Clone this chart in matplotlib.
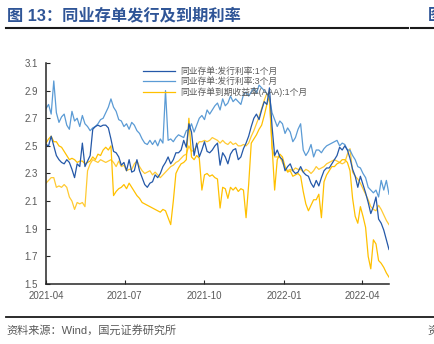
import matplotlib
matplotlib.use("Agg")
import matplotlib.pyplot as plt
import matplotlib.dates as mdates
import matplotlib.ticker as mticker
from matplotlib.lines import Line2D
import pandas as pd

plt.rcParams['font.family'] = ['Liberation Sans', 'Noto Sans CJK SC', 'DejaVu Sans']

start_date = "2021-04-01"
n_points = 133  # every 3 days

issue_1m = [2.51, 2.50, 2.57, 2.50, 2.43, 2.40, 2.38, 2.37, 2.40, 2.38,
            2.33, 2.27, 2.37, 2.35, 2.52, 2.35, 2.39, 2.43, 2.62, 2.64,
            2.65, 2.64, 2.65, 2.65, 2.63, 2.55, 2.46, 2.45, 2.42, 2.36,
            2.38, 2.32, 2.40, 2.31, 2.32, 2.40, 2.32, 2.27, 2.22, 2.20,
            2.23, 2.24, 2.29, 2.27, 2.30,
            2.35, 2.38, 2.42, 2.37, 2.40, 2.45, 2.45, 2.47, 2.54, 2.49,
            2.66, 2.60, 2.43, 2.52, 2.42, 2.47, 2.53, 2.46, 2.45, 2.47,
            2.50, 2.52, 2.36, 2.45, 2.42, 2.37, 2.44, 2.47, 2.48, 2.40,
            2.42, 2.48, 2.52, 2.57, 2.64, 2.70, 2.73, 2.69, 2.76, 2.82,
            2.80, 2.92,
            2.64, 2.43, 2.47, 2.42, 2.40, 2.32, 2.35, 2.37, 2.32, 2.30,
            2.31, 2.35, 2.31, 2.29, 2.28, 2.23, 2.20, 2.25, 2.21, 2.27,
            2.32, 2.34, 2.34, 2.37, 2.40, 2.43, 2.49, 2.47, 2.50, 2.47,
            2.41, 2.33, 2.28, 2.20, 2.28, 2.22, 2.16, 2.09, 2.01, 2.06,
            2.13, 1.97, 1.94, 1.89, 1.82, 1.75]

issue_3m = [2.77, 2.80, 2.73, 2.97, 2.74, 2.67, 2.71, 2.73, 2.65, 2.62,
            2.75, 2.68, 2.70, 2.64, 2.72, 2.66, 2.64, 2.61, 2.63, 2.64,
            2.66, 2.69, 2.70, 2.74, 2.78, 2.84, 2.78, 2.75, 2.69, 2.68,
            2.64, 2.66, 2.62, 2.67, 2.65, 2.61, 2.59, 2.55, 2.52, 2.51,
            2.54, 2.51, 2.54, 2.50, 2.55,
            2.52, 2.90, 2.54, 2.55, 2.53, 2.56, 2.58, 2.57, 2.56, 2.61,
            2.62, 2.66, 2.60, 2.65, 2.70, 2.72, 2.69, 2.76, 2.73, 2.76,
            2.79, 2.81, 2.76, 2.84, 2.79, 2.81, 2.86, 2.82, 2.84, 2.82,
            2.80, 2.87, 2.89, 2.86, 2.89, 2.92, 2.88, 2.94, 2.92, 2.90,
            2.88, 2.85,
            2.74, 2.69, 2.64, 2.68, 2.66, 2.59, 2.63, 2.60, 2.53, 2.56,
            2.62, 2.66, 2.47, 2.43, 2.46, 2.51, 2.42, 2.47, 2.47, 2.45,
            2.48, 2.50, 2.51, 2.52, 2.53, 2.54, 2.50, 2.52, 2.51, 2.47,
            2.47, 2.43, 2.40, 2.35, 2.34, 2.30, 2.27, 2.20, 2.18, 2.16,
            2.18, 2.13, 2.25, 2.18, 2.25, 2.15]

ytm_1m = [2.52, 2.55, 2.57, 2.53, 2.53, 2.50, 2.49, 2.46, 2.43, 2.40,
          2.41, 2.40, 2.38, 2.39, 2.39, 2.37, 2.38, 2.39, 2.42, 2.40,
          2.44, 2.43, 2.47, 2.49, 2.47, 2.50, 2.14, 2.17, 2.19, 2.20,
          2.22, 2.19, 2.23, 2.20, 2.17, 2.14, 2.12, 2.09, 2.08, 2.07,
          2.06, 2.05, 2.04, 2.03, 2.02,
          2.04, 2.03, 1.98, 1.93, 2.10, 2.30, 2.34, 2.37, 2.38, 2.40,
          2.70, 2.42, 2.40, 2.43, 2.41, 2.18, 2.29, 2.30, 2.28, 2.29,
          2.27, 2.26, 2.05, 2.20, 2.19, 2.12, 2.20, 2.18, 2.20, 2.17,
          2.19, 2.18, 1.98, 2.22, 2.52, 2.55, 2.58, 2.62, 2.65, 2.72,
          2.80, 2.86,
          2.50, 2.18, 2.40, 2.44, 2.42, 2.35, 2.31, 2.32, 2.28, 2.29,
          2.30, 2.28, 2.17, 2.08, 2.03, 2.07, 2.11, 2.11, 2.15, 1.98,
          2.24, 2.29, 2.32, 2.35, 2.35, 2.37, 2.38, 2.40, 2.40, 2.38,
          2.32, 2.12, 1.99, 1.94, 2.06, 1.99, 1.91, 1.70, 1.61, 1.82,
          1.79, 1.67, 1.65, 1.62, 1.58, 1.55]

ytm_other = [2.23, 2.25, 2.27, 2.27, 2.20, 2.21, 2.20, 2.22, 2.20, 2.13,
             2.10, 2.04, 2.09, 2.08, 2.09, 2.06, 2.32, 2.37, 2.40, 2.39,
             2.38, 2.40, 2.39, 2.38, 2.39, 2.40, 2.38, 2.35, 2.39, 2.35,
             2.36, 2.32, 2.33, 2.33, 2.37, 2.39, 2.35, 2.32, 2.30, 2.31,
             2.32, 2.29, 2.31, 2.29, 2.27,
             2.29, 2.31, 2.33, 2.35, 2.36, 2.38, 2.39, 2.41, 2.43, 2.44,
             2.50, 2.46, 2.47, 2.50, 2.53, 2.53, 2.54, 2.53, 2.54, 2.56,
             2.55, 2.54, 2.52, 2.54, 2.52, 2.51, 2.53, 2.51, 2.52, 2.50,
             2.50, 2.51, 2.50, 2.52, 2.57, 2.61, 2.66, 2.71, 2.77, 2.83,
             2.88, 2.84,
             2.48, 2.42, 2.42, 2.42, 2.38, 2.34, 2.32, 2.33, 2.32, 2.34,
             2.33, 2.33, 2.31, 2.33, 2.32, 2.30, 2.32, 2.35, 2.33, 2.34,
             2.35, 2.37, 2.38, 2.39, 2.40, 2.39, 2.38, 2.37, 2.38, 2.44,
             2.48, 2.31, 2.28, 2.26, 2.23, 2.19, 2.15, 2.11, 2.06, 2.04,
             2.03, 2.07, 2.04, 2.00, 1.96, 1.93]

labels = ["同业存单:发行利率:1个月", "同业存单:发行利率:3个月", "同业存单到期收益率(AAA):1个月"]
y_ticks = [1.5, 1.7, 1.9, 2.1, 2.3, 2.5, 2.7, 2.9, 3.1]
x_ticks = ["2021-04-01", "2021-07-01", "2021-10-01", "2022-01-01", "2022-04-01"]

title = "图 13：同业存单发行及到期利率"
source = "资料来源：Wind，国元证券研究所"

dates = pd.date_range(start_date, periods=n_points, freq="3D")

c_dark = "#2458A8"
c_light = "#5B9BD5"
c_yel = "#FFC000"
c_yel2 = "#FFCA33"
gray = "#595959"

fig = plt.figure(figsize=(4.35, 3.44), dpi=100)
ax = fig.add_axes([0.1057, 0.1744, 0.7885, 0.6425])

ax.plot(dates, ytm_other, color=c_yel2, lw=0.9)
ax.plot(dates, ytm_1m, color=c_yel, lw=0.9)
ax.plot(dates, issue_3m, color=c_light, lw=0.9)
ax.plot(dates, issue_1m, color=c_dark, lw=0.9)

ax.set_ylim(1.5, 3.1)
ax.set_xlim(dates[0], dates[-1])
ax.set_yticks(y_ticks)
ax.yaxis.set_major_formatter(mticker.FormatStrFormatter('%.1f'))
ax.set_xticks(pd.to_datetime(x_ticks))
ax.xaxis.set_major_formatter(mdates.DateFormatter('%Y-%m'))

for s in ['top', 'right']:
    ax.spines[s].set_visible(False)
for s in ['left', 'bottom']:
    ax.spines[s].set_color('#262626')
    ax.spines[s].set_linewidth(1.1)
ax.tick_params(direction='in', length=3, width=0.8, color='#262626',
               labelsize=7, labelcolor=gray)
ax.tick_params(axis='y', pad=6)
ax.tick_params(axis='x', pad=5)

handles = [Line2D([], [], color=c_dark, lw=0.9),
           Line2D([], [], color=c_light, lw=0.9),
           Line2D([], [], color=c_yel, lw=0.9)]
leg = ax.legend(handles, labels, loc='upper left', bbox_to_anchor=(0.283, 0.98),
                frameon=False, fontsize=6.3, borderpad=0, borderaxespad=0,
                handlelength=3.7, handletextpad=0.6, labelspacing=0.1)
for t in leg.get_texts():
    t.set_color(gray)

title_color = "#2F5597"
fig.text(0.016, 1 - 15.5 / 344, title, color=title_color, fontsize=11.7,
         fontweight='bold', va='center', ha='left')
fig.text(0.983, 1 - 15.5 / 344, "图", color=title_color, fontsize=11.7,
         fontweight='bold', va='center', ha='left')

fig.add_artist(Line2D([6 / 435, 408 / 435], [1 - 28.3 / 344] * 2,
                      transform=fig.transFigure, color='#1a1a1a', lw=1.5))
fig.add_artist(Line2D([411 / 435, 1.0], [1 - 28.3 / 344] * 2,
                      transform=fig.transFigure, color='#1a1a1a', lw=1.5))
fig.add_artist(Line2D([6 / 435, 1.0], [1 - 316.5 / 344] * 2,
                      transform=fig.transFigure, color='#1a1a1a', lw=1.3))

fig.text(0.016, 1 - 330.5 / 344, source, color=gray, fontsize=8,
         va='center', ha='left')
fig.text(0.983, 1 - 332 / 344, "资", color=gray, fontsize=8,
         va='center', ha='left')

fig.savefig("out.png", dpi=100)
